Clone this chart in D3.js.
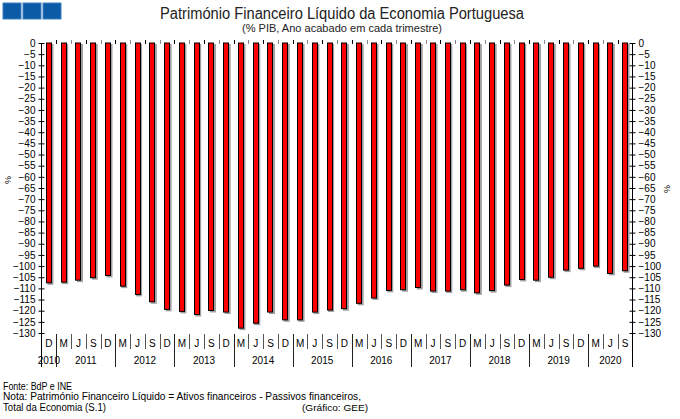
<!DOCTYPE html>
<html>
<head>
<meta charset="utf-8">
<script src="https://cdn.jsdelivr.net/npm/d3@7"></script>
<style>
  html, body { margin: 0; padding: 0; background: #fff; }
  svg { display: block; font-family: "Liberation Sans", Arial, sans-serif; }
</style>
</head>
<body>
<svg id="chart" width="680" height="419"></svg>
<script>
// ---- Data ----
const quarters = ["D",
  "M","J","S","D", "M","J","S","D", "M","J","S","D", "M","J","S","D",
  "M","J","S","D", "M","J","S","D", "M","J","S","D", "M","J","S","D",
  "M","J","S","D", "M","J","S"];
const years = [2010,
  2011,2011,2011,2011, 2012,2012,2012,2012, 2013,2013,2013,2013, 2014,2014,2014,2014,
  2015,2015,2015,2015, 2016,2016,2016,2016, 2017,2017,2017,2017, 2018,2018,2018,2018,
  2019,2019,2019,2019, 2020,2020,2020];
const values = [-107.5,
  -107.2, -106.3, -105.2, -104.2,
  -109.0, -112.7, -116.0, -119.4,
  -120.3, -121.7, -119.9, -120.6,
  -127.8, -125.6, -120.6, -124.1,
  -124.1, -120.6, -119.7, -119.1,
  -116.7, -114.3, -110.9, -110.6,
  -109.6, -111.2, -111.2, -110.6,
  -112.0, -111.0, -108.5, -106.0,
  -106.3, -105.0, -101.8, -101.0,
  -100.0, -103.3, -102.1];
const yTicks = d3.range(0, -131, -5);
const yearLabels = [2010,2011,2012,2013,2014,2015,2016,2017,2018,2019,2020];

const titleText = "Património Financeiro Líquido da Economia Portuguesa";
const subtitleText = "(% PIB, Ano acabado em cada trimestre)";

// ---- Layout ----
const svg = d3.select("#chart");
const pLeft = 41.5, pRight = 632.5, pTop = 43, pBottom = 333;
const idx = d3.range(values.length);

const x = d3.scaleBand().domain(idx).range([pLeft, pRight]).paddingInner(0.59).paddingOuter(0.295);
const xb = d3.scaleBand().domain(idx).range([pLeft, pRight]);
const y = d3.scaleLinear().domain([0, -130]).range([pTop, pBottom]);

// Logo squares
[3, 23, 43].forEach(sx => {
  svg.append("rect").attr("x", sx).attr("y", 3).attr("width", 18).attr("height", 16)
    .attr("fill", "#0b5ba6").attr("stroke", "#3f7fbf").attr("stroke-width", 1);
});

// Titles
svg.append("text").attr("x", 342).attr("y", 19).attr("text-anchor", "middle")
  .attr("font-size", 16).attr("fill", "#222").attr("textLength", 364)
  .attr("lengthAdjust", "spacingAndGlyphs").text(titleText);
svg.append("text").attr("x", 342).attr("y", 32).attr("text-anchor", "middle")
  .attr("font-size", 11).attr("fill", "#222").attr("textLength", 200)
  .attr("lengthAdjust", "spacingAndGlyphs").text(subtitleText);

// Bars (shadow + bar)
const g = svg.append("g");
g.selectAll("rect.shadow").data(idx).join("rect").attr("class", "shadow")
  .attr("x", i => x(i) + 1.5).attr("y", y(0) + 1)
  .attr("width", x.bandwidth()).attr("height", i => y(values[i]) - y(0) + 1)
  .attr("fill", "#a0a0a0");
g.selectAll("rect.bar").data(idx).join("rect").attr("class", "bar")
  .attr("x", i => Math.round(x(i)) + 0.5).attr("y", y(0))
  .attr("width", Math.round(x.bandwidth()) - 1).attr("height", i => y(values[i]) - y(0))
  .attr("fill", "#ff0000").attr("stroke", "#000").attr("stroke-width", 1);

// Left axis
const axL = svg.append("g").attr("transform", `translate(${pLeft},0)`)
  .call(d3.axisLeft(y).tickValues(yTicks).tickSize(3).tickFormat(d => d === 0 ? "0" : d3.format("d")(d)));
axL.select(".domain").remove();
axL.selectAll(".tick line").attr("x1", -3).attr("x2", 3).attr("stroke", "#000");
axL.selectAll(".tick text").attr("x", -6).attr("font-size", 10).attr("font-family", "Liberation Sans, Arial, sans-serif").attr("fill", "#000");
svg.append("line").attr("x1", pLeft).attr("x2", pLeft).attr("y1", pTop).attr("y2", 367).attr("stroke", "#000");

// Right axis
const axR = svg.append("g").attr("transform", `translate(${pRight},0)`)
  .call(d3.axisRight(y).tickValues(yTicks).tickSize(3).tickFormat(d => d === 0 ? "0" : d3.format("d")(d)));
axR.select(".domain").remove();
axR.selectAll(".tick line").attr("x1", -3).attr("x2", 3).attr("stroke", "#000");
axR.selectAll(".tick text").attr("x", 6).attr("font-size", 10).attr("font-family", "Liberation Sans, Arial, sans-serif").attr("fill", "#000");
svg.append("line").attr("x1", pRight).attr("x2", pRight).attr("y1", pTop).attr("y2", 367).attr("stroke", "#000");

// Percent labels
svg.append("text").attr("transform", "translate(11,180) rotate(-90)").attr("text-anchor", "middle")
  .attr("font-size", 9).text("%");
svg.append("text").attr("transform", "translate(670,189) rotate(-90)").attr("text-anchor", "middle")
  .attr("font-size", 9).text("%");

// Top small ticks at zero line
idx.slice(1).forEach(i => {
  svg.append("line").attr("x1", Math.round(xb(i)) + 0.5).attr("x2", Math.round(xb(i)) + 0.5)
    .attr("y1", 40).attr("y2", 44).attr("stroke", i % 2 ? "#000" : "#888");
});

// Bottom category axis: quarter labels and separators
const catG = svg.append("g");
idx.forEach(i => {
  catG.append("text").attr("x", xb(i) + xb.bandwidth() / 2).attr("y", 347)
    .attr("text-anchor", "middle").attr("font-size", 10).text(quarters[i]);
  if (i > 0) {
    const isYear = years[i] !== years[i - 1];
    catG.append("line").attr("x1", Math.round(xb(i)) + 0.5).attr("x2", Math.round(xb(i)) + 0.5)
      .attr("y1", 334).attr("y2", isYear ? 367 : 349)
      .attr("stroke", isYear ? "#222" : "#555");
  }
});
// Year labels centered on their quarters
yearLabels.forEach(yr => {
  const members = idx.filter(i => years[i] === yr);
  const x0 = xb(members[0]), x1 = xb(members[members.length - 1]) + xb.bandwidth();
  catG.append("text").attr("x", (x0 + x1) / 2).attr("y", 364)
    .attr("text-anchor", "middle").attr("font-size", 10).text(yr);
});

// Footer
const foot = svg.append("g").attr("font-size", 10).attr("fill", "#000");
foot.append("text").attr("x", 3).attr("y", 390).attr("textLength", 69).attr("lengthAdjust", "spacingAndGlyphs").text("Fonte: BdP e INE");
foot.append("text").attr("x", 3).attr("y", 400).attr("textLength", 358).attr("lengthAdjust", "spacingAndGlyphs")
  .text("Nota: Património Financeiro Líquido = Ativos financeiros - Passivos financeiros,");
foot.append("text").attr("x", 3).attr("y", 411).attr("textLength", 103).attr("lengthAdjust", "spacingAndGlyphs").text("Total da Economia (S.1)");
foot.append("text").attr("x", 302).attr("y", 411).attr("font-size", 9.5).attr("textLength", 66).attr("lengthAdjust", "spacingAndGlyphs").text("(Gráfico: GEE)");
</script>
</body>
</html>
